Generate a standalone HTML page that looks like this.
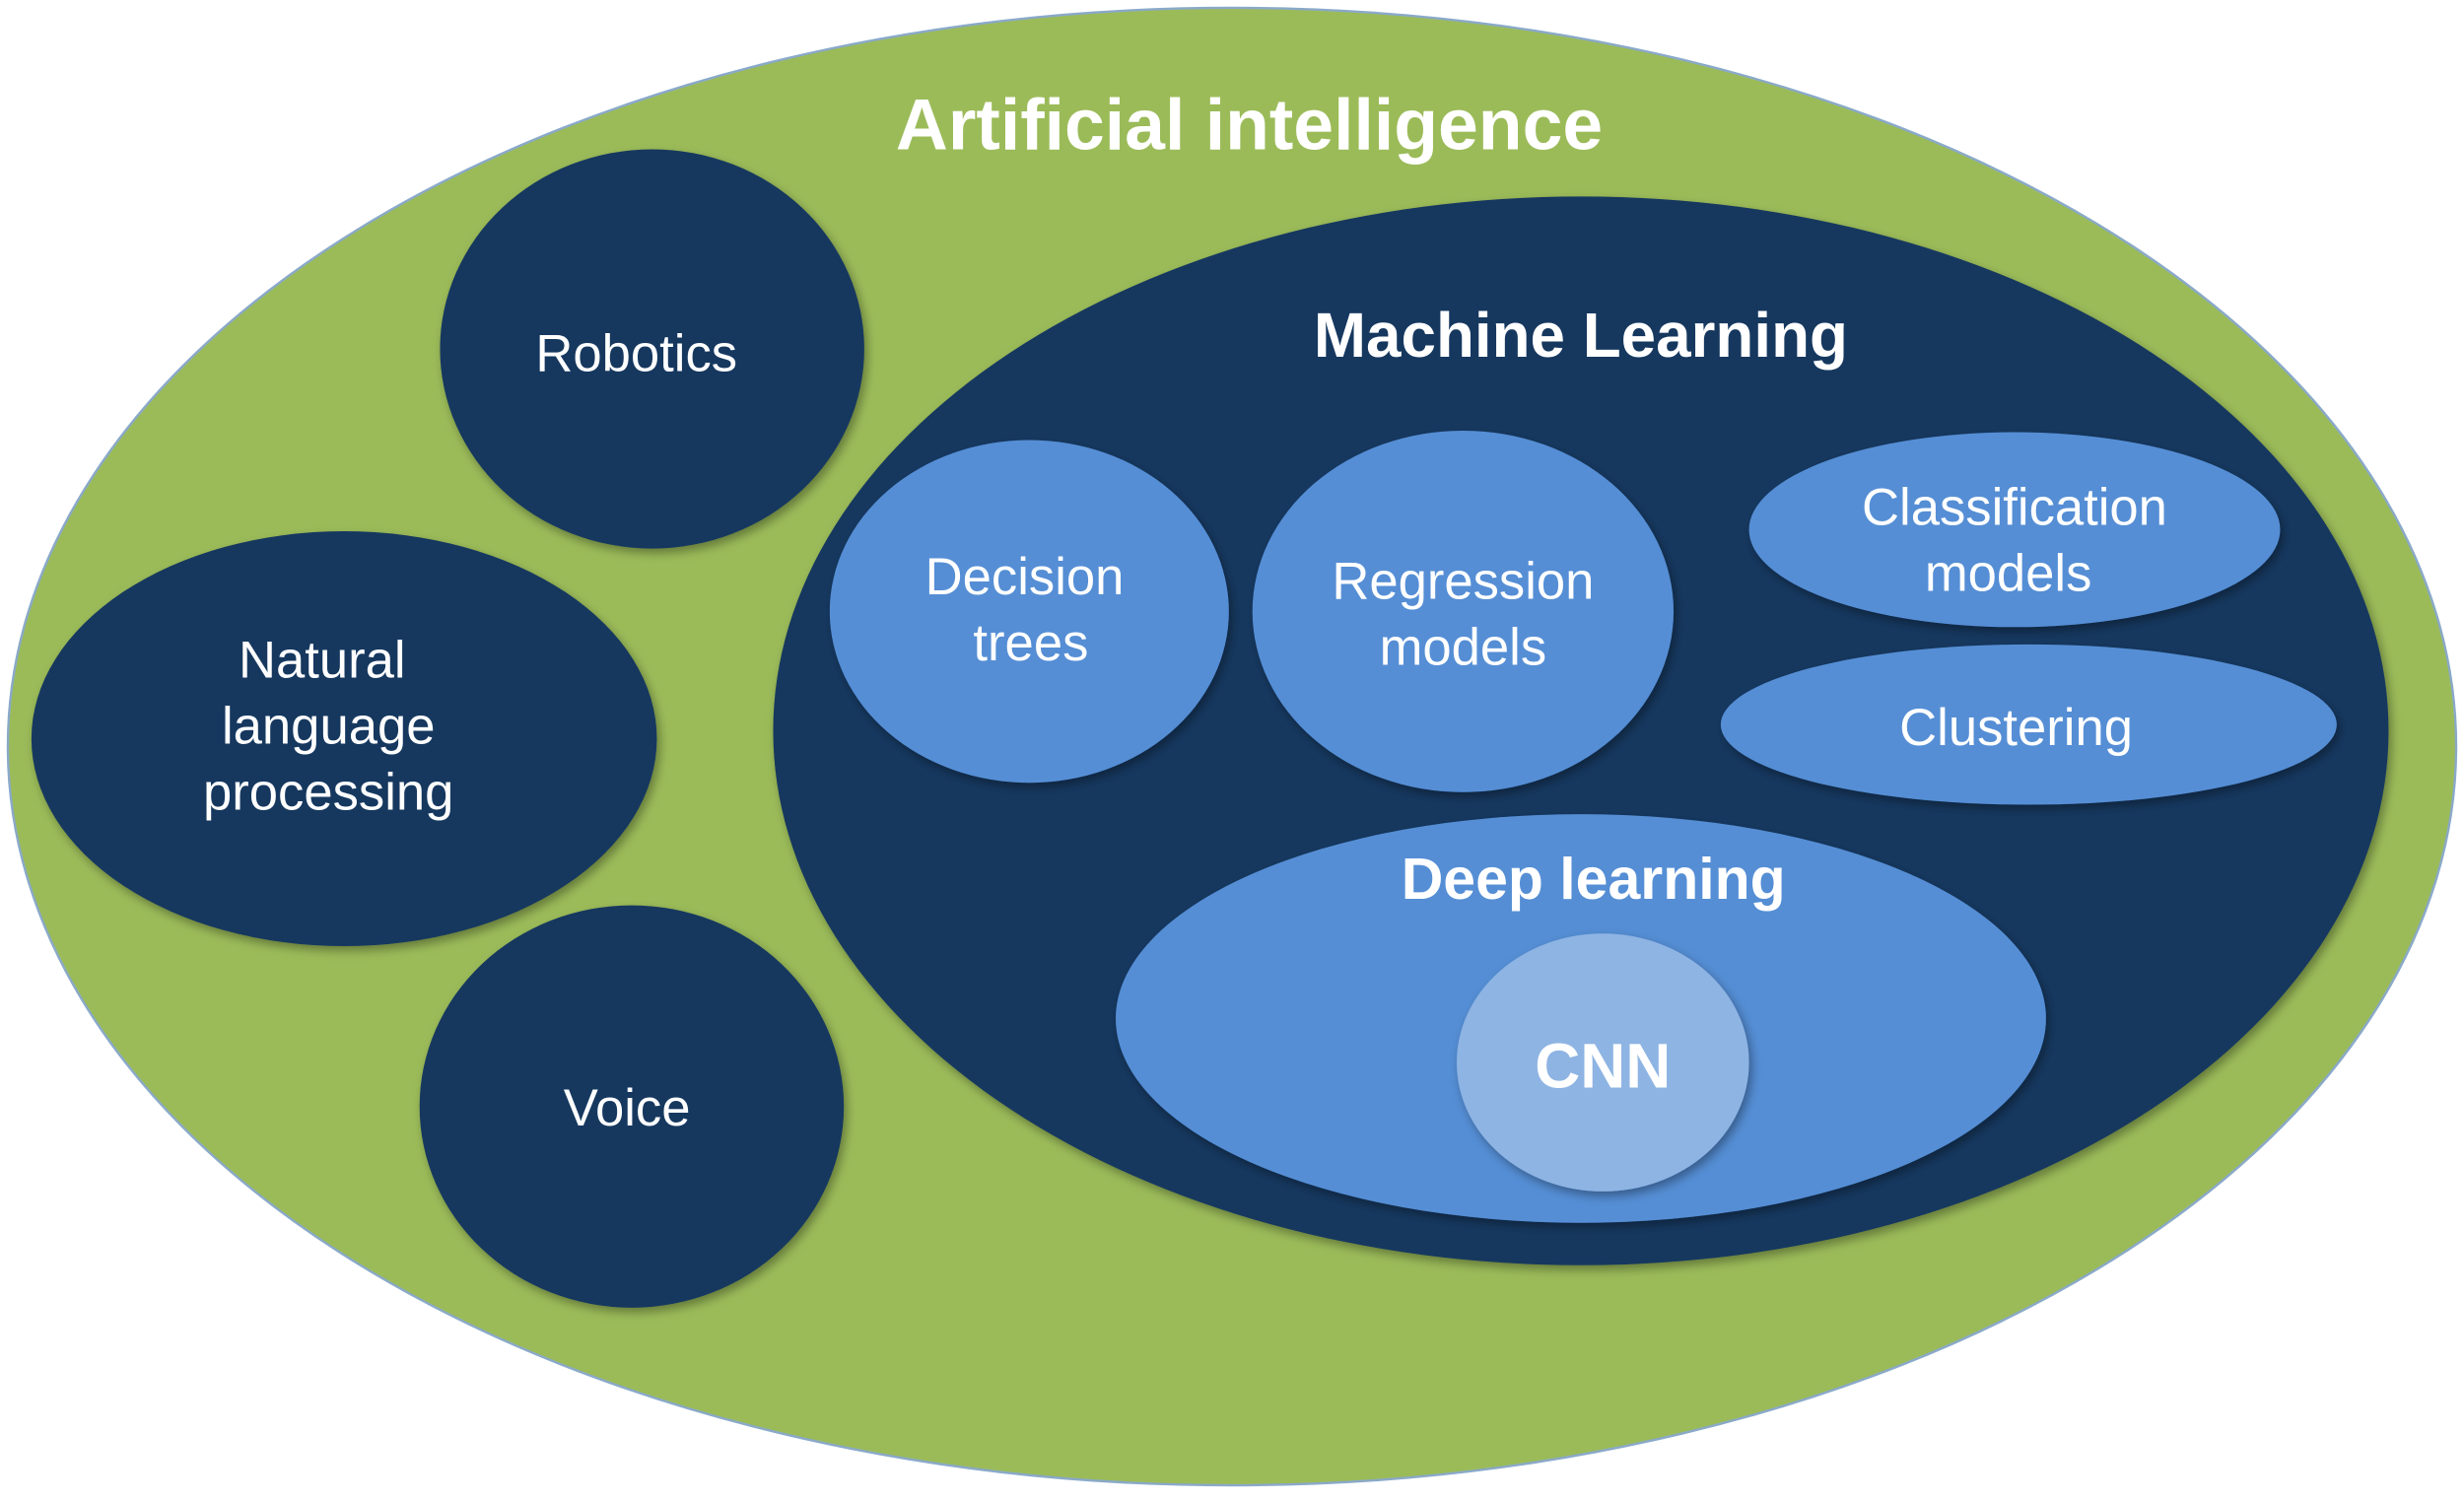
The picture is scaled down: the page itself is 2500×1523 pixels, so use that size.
<!DOCTYPE html>
<html><head><meta charset="utf-8"><style>
html,body{margin:0;padding:0;background:#fff;}
svg{display:block;}
text{font-family:"Liberation Sans",sans-serif;fill:#fff;text-anchor:middle;}
</style></head><body>
<svg width="2500" height="1523" viewBox="0 0 1568 955" preserveAspectRatio="none" xmlns="http://www.w3.org/2000/svg">
<defs>
<filter id="sh" x="-10%" y="-10%" width="120%" height="120%"><feDropShadow dx="2" dy="3" stdDeviation="3" flood-color="#000" flood-opacity="0.35"/></filter>
</defs>
<rect width="1568" height="955" fill="#fff"/>
<ellipse cx="784" cy="475" rx="779" ry="470" fill="#9bbb59" stroke="#8aa9c9" stroke-width="1.5"/>
<text x="795" y="95" font-size="46" font-weight="bold">Artificial intelligence</text>
<ellipse cx="415" cy="222" rx="135" ry="127" fill="#17375e" filter="url(#sh)"/>
<text x="405" y="236" font-size="33">Robotics</text>
<ellipse cx="219" cy="470" rx="199" ry="132" fill="#17375e" filter="url(#sh)"/>
<text x="205" y="431" font-size="33">Natural</text>
<text x="209" y="473" font-size="33">language</text>
<text x="209" y="515" font-size="33">processing</text>
<ellipse cx="402" cy="704" rx="135" ry="128" fill="#17375e" filter="url(#sh)"/>
<text x="399" y="716" font-size="33">Voice</text>
<ellipse cx="1006" cy="465" rx="514" ry="340" fill="#17375e" filter="url(#sh)"/>
<text x="1006" y="227" font-size="40" font-weight="bold">Machine Learning</text>
<ellipse cx="655" cy="389" rx="127" ry="109" fill="#558ed5" filter="url(#sh)"/>
<text x="652" y="378" font-size="33">Decision</text>
<text x="656" y="420" font-size="33">trees</text>
<ellipse cx="931" cy="389" rx="134" ry="115" fill="#558ed5" filter="url(#sh)"/>
<text x="931" y="381" font-size="33">Regression</text>
<text x="931" y="423" font-size="33">models</text>
<ellipse cx="1282" cy="337" rx="169" ry="62" fill="#558ed5" filter="url(#sh)"/>
<text x="1282" y="334" font-size="33">Classification</text>
<text x="1278" y="376" font-size="33">models</text>
<ellipse cx="1291" cy="461" rx="196" ry="51" fill="#558ed5" filter="url(#sh)"/>
<text x="1283" y="474" font-size="33">Clustering</text>
<ellipse cx="1006" cy="648" rx="296" ry="130" fill="#558ed5" filter="url(#sh)"/>
<text x="1014" y="572" font-size="37" font-weight="bold">Deep learning</text>
<ellipse cx="1020" cy="676" rx="93" ry="82" fill="#8eb4e3" filter="url(#sh)"/>
<text x="1020" y="692" font-size="40" font-weight="bold">CNN</text>
</svg>
</body></html>
